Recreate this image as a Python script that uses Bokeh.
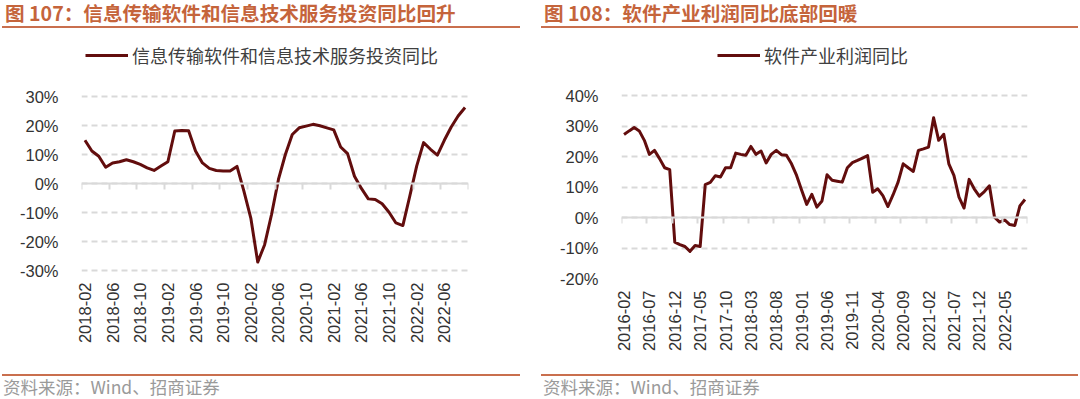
from bokeh.plotting import figure
from bokeh.models import Div, FixedTicker, LinearAxis, Range1d, PrintfTickFormatter
from bokeh.layouts import column, row
from bokeh.embed import file_html
from bokeh.resources import INLINE
from math import pi
import pandas as pd

# ---------------- data ----------------
left_months = [str(m) for m in pd.period_range("2018-02", periods=56, freq="M")]
left_values = [14.9, 11.2, 9.4, 5.6, 7.1, 7.5, 8.2, 7.5, 6.6, 5.4,
               4.5, 6.0, 7.5, 18.1, 18.3, 18.2, 11.2, 7.1, 5.2, 4.5,
               4.3, 4.3, 5.9, -2.6, -11.9, -27.1, -21.1, -10.7, 1.4, 10.0,
               16.9, 19.2, 19.8, 20.4, 19.9, 19.2, 18.5, 12.6, 10.3, 2.5,
               -1.7, -5.3, -5.5, -7.0, -9.9, -13.6, -14.5, -4.4, 6.0, 14.1,
               11.8, 9.8, 14.9, 19.5, 23.3, 26.2]
left_tick_labels = ["2018-02", "2018-06", "2018-10", "2019-02", "2019-06", "2019-10",
                    "2020-02", "2020-06", "2020-10", "2021-02", "2021-06", "2021-10",
                    "2022-02", "2022-06"]
left_series = "信息传输软件和信息技术服务投资同比"
left_title = "图 107：信息传输软件和信息技术服务投资同比回升"

right_months = [str(m) for m in pd.period_range("2016-02", periods=80, freq="M")]
right_values = [27.2, 28.4, 29.5, 28.4, 25.3, 20.7, 22.0, 19.3, 16.3, 15.7,
                -8.1, -8.9, -9.5, -11.1, -9.2, -9.5, 10.8, 11.5, 13.7, 13.3,
                16.3, 16.3, 21.1, 20.7, 20.4, 23.3, 20.7, 21.8, 17.9, 20.7,
                22.0, 20.6, 20.4, 17.6, 13.8, 8.9, 4.3, 7.6, 3.4, 5.4,
                14.0, 12.2, 11.9, 11.6, 16.3, 18.0, 18.7, 19.5, 20.3, 8.3,
                9.4, 7.2, 3.6, 7.4, 11.6, 17.6, 16.3, 15.1, 22.0, 22.5,
                23.1, 32.7, 25.3, 27.3, 17.6, 13.8, 6.7, 3.1, 12.5, 9.4,
                7.0, 8.5, 10.4, 0.1, -1.5, -0.8, -2.3, -2.6, 3.8, 5.9]
right_tick_labels = ["2016-02", "2016-07", "2016-12", "2017-05", "2017-10", "2018-03",
                     "2018-08", "2019-01", "2019-06", "2019-11", "2020-04", "2020-09",
                     "2021-02", "2021-07", "2021-12", "2022-05"]
right_series = "软件产业利润同比"
right_title = "图 108：软件产业利润同比底部回暖"

source_text = "资料来源：Wind、招商证券"

LINE_COLOR = "#620d0d"
GRID_COLOR = "#d9d9d9"
TITLE_COLOR = "#c5643b"
RULE_COLOR = "#c96f4e"
LABEL_FONT = "Liberation Sans"
CJK_FONT = "Noto Sans CJK SC"

FIG_H = 343
TOP = 6
BOTTOM = 94


def make_chart(months, values, tick_labels, step, ymin, ymax, ystep, series,
               frame_left, frame_w, fig_w, grid_top_px, grid_bottom_px,
               xlabel_standoff, legend_xy):
    n = len(months)
    idx = list(range(n))
    frame_h = FIG_H - TOP - BOTTOM
    # the frame extends beyond the outer gridlines (legend sits inside it)
    px_per_unit = (frame_h - grid_top_px - grid_bottom_px) / (ymax - ymin)
    y_start = ymin - grid_bottom_px / px_per_unit
    y_end = ymax + grid_top_px / px_per_unit
    p = figure(width=fig_w, height=FIG_H,
               x_range=Range1d(-0.5, n - 0.5), y_range=Range1d(y_start, y_end),
               output_backend="svg", toolbar_location=None,
               min_border_left=frame_left, min_border_right=fig_w - frame_left - frame_w,
               min_border_top=TOP, min_border_bottom=BOTTOM)
    p.outline_line_color = None
    p.background_fill_color = "white"
    p.border_fill_color = "white"

    yticks = list(range(ymin, ymax + 1, ystep))
    p.yaxis.ticker = FixedTicker(ticks=yticks)
    p.yaxis.formatter = PrintfTickFormatter(format="%d%%")
    p.yaxis.axis_line_color = None
    p.yaxis.major_tick_line_color = None
    p.yaxis.minor_tick_line_color = None
    p.yaxis.major_label_standoff = 17
    p.yaxis.major_label_text_font = LABEL_FONT
    p.yaxis.major_label_text_font_size = "16.5px"
    p.yaxis.major_label_text_color = "#333333"

    p.xgrid.visible = False
    p.ygrid.ticker = FixedTicker(ticks=yticks)
    p.ygrid.grid_line_color = GRID_COLOR
    p.ygrid.grid_line_width = 2
    p.ygrid.grid_line_dash = "6 4"

    label_pos = [months.index(l) for l in tick_labels]
    p.xaxis.ticker = FixedTicker(ticks=label_pos)
    p.xaxis.major_label_overrides = {i: l for i, l in zip(label_pos, tick_labels)}
    p.xaxis.major_label_orientation = pi / 2
    p.xaxis.axis_line_color = None
    p.xaxis.major_tick_line_color = None
    p.xaxis.minor_tick_line_color = None
    p.xaxis.major_tick_out = 0
    p.xaxis.major_tick_in = 0
    p.xaxis.major_label_standoff = xlabel_standoff
    p.xaxis.major_label_text_font = LABEL_FONT
    p.xaxis.major_label_text_font_size = "16.5px"
    p.xaxis.major_label_text_color = "#333333"

    # zero line with tick marks between categories (drawn at y = 0, ticks pointing down)
    zero_axis = LinearAxis(fixed_location=0,
                           ticker=FixedTicker(ticks=[k - 0.5 for k in range(0, n + 1, step)]),
                           axis_line_color=GRID_COLOR, axis_line_width=2,
                           major_tick_line_color=GRID_COLOR, major_tick_line_width=2,
                           major_tick_in=6, major_tick_out=0,
                           minor_tick_line_color=None,
                           major_label_standoff=0,
                           major_label_text_font_size="0px",
                           major_label_text_color=None)
    p.add_layout(zero_axis, "above")

    p.line(idx, values, line_color=LINE_COLOR, line_width=3, line_join="round",
           legend_label=series)

    lg = p.legend[0]
    lg.location = legend_xy
    lg.label_text_font = CJK_FONT
    lg.label_text_font_size = "18px"
    lg.label_text_color = "#404040"
    lg.glyph_width = 43
    lg.glyph_height = 22
    lg.label_height = 22
    lg.label_standoff = 4
    lg.padding = 0
    lg.margin = 0
    lg.spacing = 0
    lg.border_line_color = None
    lg.background_fill_alpha = 0
    return p


def title_div(text, inner_style):
    html = ('<div style="box-sizing:border-box; %s height:28px; padding-top:2px; '
            'border-bottom:2px solid %s; font-family:\'%s\'; font-weight:bold; '
            'font-size:19.6px; line-height:22px; color:%s; white-space:nowrap;">%s</div>'
            % (inner_style, RULE_COLOR, CJK_FONT, TITLE_COLOR, text))
    return Div(text=html, width=540, height=29, margin=0)


def footer_div(text, inner_style):
    html = ('<div style="box-sizing:border-box; %s height:26px; margin-top:2px; '
            'border-top:2px solid %s; font-family:\'%s\'; font-size:17.5px; '
            'line-height:22px; color:#9a9a9a; white-space:nowrap;">%s</div>'
            % (inner_style, RULE_COLOR, CJK_FONT, text))
    return Div(text=html, width=540, height=27, margin=0)


# frame: y 35..278 in both panels
left_fig = make_chart(left_months, left_values, left_tick_labels, 4, -30, 30, 10, left_series,
                      frame_left=81, frame_w=387, fig_w=540,
                      grid_top_px=61, grid_bottom_px=8, xlabel_standoff=4,
                      legend_xy=(4, 210))
right_fig = make_chart(right_months, right_values, right_tick_labels, 5, -20, 40, 10, right_series,
                       frame_left=81, frame_w=406, fig_w=540,
                       grid_top_px=60, grid_bottom_px=0, xlabel_standoff=12,
                       legend_xy=(96, 210))

layout = column(
    row(title_div(left_title, "margin-left:2px; padding-left:3px; width:518px;"),
        title_div(right_title, "margin-left:1px; padding-left:3px; width:537px;")),
    row(left_fig, right_fig),
    row(footer_div(source_text, "margin-left:2px; padding-left:1px; width:518px;"),
        footer_div(source_text, "margin-left:1px; padding-left:2px; width:537px;")),
)

open("out.html", "w").write(file_html(layout, INLINE))
